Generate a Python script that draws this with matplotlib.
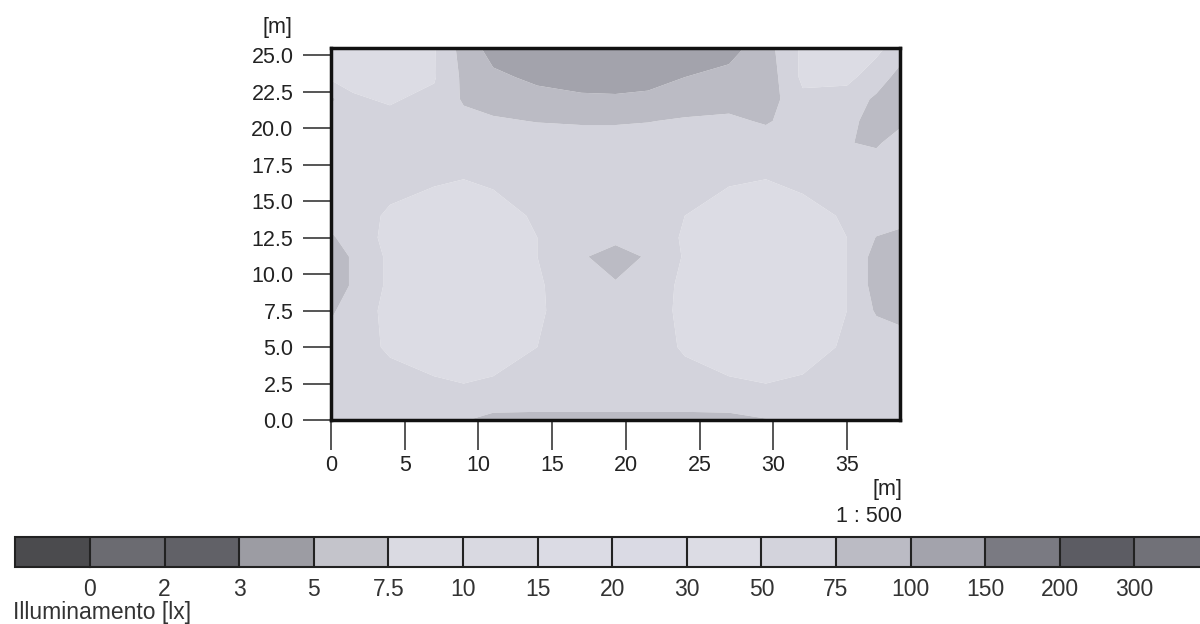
import matplotlib
matplotlib.use("Agg")
import matplotlib.pyplot as plt
import numpy as np

plt.rcParams['font.family'] = ['Liberation Sans', 'DejaVu Sans']

# ---- data: illuminance grid (lx) ----
x_m = [0, 1.5, 4, 7, 9, 11, 14, 17, 19.3, 21.5, 24, 27, 29.5, 32, 35, 37, 38.6]
y_m = [0, 0.8, 2.5, 5, 7.5, 9.2, 11.2, 12.5, 14, 17, 19, 20.5, 22, 23.5, 25.5]

row_00 = [55, 55, 55, 60, 74, 80, 82, 82, 82, 82, 82, 80, 76, 58, 55, 55, 55]
row_01 = [58, 58, 58, 60, 66, 72, 72, 72, 72, 72, 72, 72, 68, 60, 58, 58, 58]
row_02 = [58, 58, 55, 52, 50, 52, 56, 58, 58, 58, 56, 52, 50, 52, 56, 58, 58]
row_03 = [60, 56, 48, 42, 40, 42, 50, 58, 60, 58, 48, 42, 40, 44, 52, 58, 62]
row_04 = [80, 58, 46, 40, 38, 40, 48, 58, 60, 58, 46, 40, 38, 42, 50, 78, 84]
row_05 = [88, 72, 45, 38, 36, 38, 48, 60, 70, 60, 46, 38, 36, 40, 50, 85, 92]
row_06 = [88, 72, 45, 38, 36, 40, 50, 70, 95, 70, 48, 38, 36, 40, 50, 85, 92]
row_07 = [80, 58, 46, 40, 38, 42, 50, 60, 62, 60, 48, 40, 38, 42, 50, 76, 82]
row_08 = [60, 56, 48, 42, 40, 44, 52, 58, 60, 58, 50, 42, 40, 44, 52, 60, 65]
row_09 = [60, 58, 56, 54, 52, 54, 58, 60, 60, 60, 56, 54, 52, 56, 62, 62, 60]
row_10 = [60, 60, 58, 58, 60, 60, 62, 62, 62, 62, 60, 60, 62, 60, 74, 78, 65]
row_11 = [62, 58, 55, 60, 68, 72, 76, 78, 78, 76, 72, 70, 78, 62, 70, 82, 80]
row_12 = [80, 52, 48, 55, 78, 85, 92, 96, 97, 95, 90, 85, 88, 55, 58, 80, 88]
row_13 = [45, 45, 45, 48, 80, 95, 105, 110, 110, 108, 100, 92, 90, 45, 45, 60, 85]
row_14 = [45, 45, 45, 48, 85, 110, 125, 125, 125, 125, 125, 110, 85, 45, 45, 45, 60]

# legend classes
levels = [0, 2, 3, 5, 7.5, 10, 15, 20, 30, 50, 75, 100, 150, 200, 300]
level_labels = ["0", "2", "3", "5", "7.5", "10", "15", "20", "30", "50",
                "75", "100", "150", "200", "300"]
class_colors = ["#4b4b4e", "#6b6b71", "#616167", "#9c9ca3", "#c4c4cb",
                "#dadae2", "#d9d9e1", "#dbdbe4", "#dadae4", "#dcdce4",
                "#d3d3dc", "#bbbbc4", "#a3a3ac", "#7a7a82", "#5c5c63",
                "#717178"]

x_ticks = [0, 5, 10, 15, 20, 25, 30, 35]
y_ticks = [0, 2.5, 5, 7.5, 10, 12.5, 15, 17.5, 20, 22.5, 25]
y_tick_labels = ["0.0", "2.5", "5.0", "7.5", "10.0", "12.5", "15.0",
                 "17.5", "20.0", "22.5", "25.0"]

Z = np.array([row_00, row_01, row_02, row_03, row_04, row_05, row_06, row_07,
              row_08, row_09, row_10, row_11, row_12, row_13, row_14])
X, Y = np.meshgrid(x_m, y_m)

W, H = 1200, 624
fig = plt.figure(figsize=(W / 100, H / 100), dpi=100)
fig.patch.set_facecolor("white")

ax = fig.add_axes([331 / W, 1 - 420 / H, (900 - 331) / W, (420 - 48) / H])
cs = ax.contourf(X, Y, Z, levels=levels, colors=class_colors, extend="both",
                 antialiased=True)
ax.set_xlim(0, 38.6)
ax.set_ylim(0, 25.5)
for s in ax.spines.values():
    s.set_linewidth(2.5)
    s.set_color("#111111")
ax.set_xticks(x_ticks)
ax.set_xticklabels([str(v) for v in x_ticks])
ax.set_yticks(y_ticks)
ax.set_yticklabels(y_tick_labels)
ax.tick_params(axis="y", direction="out", length=20, width=1.4, color="#555555",
               pad=7, labelsize=15.5, labelcolor="#222222")
ax.tick_params(axis="x", direction="out", length=21.5, width=1.4, color="#555555",
               pad=3.5, labelsize=15.5, labelcolor="#222222")

fig.text(292 / W, 1 - 28 / H, "[m]", ha="right", va="center", fontsize=15.5,
         color="#222222")
fig.text(902 / W, 1 - 489 / H, "[m]", ha="right", va="center", fontsize=15.5,
         color="#222222")
fig.text(902 / W, 1 - 516 / H, "1 : 500", ha="right", va="center", fontsize=15.5,
         color="#222222")

# legend bar
cax = fig.add_axes([15.4 / W, 1 - 567 / H, (1209 - 15.4) / W, 30 / H])
cb = fig.colorbar(cs, cax=cax, orientation="horizontal", extendrect=True,
                  extendfrac=1 / 14, drawedges=True, ticks=levels)
cb.set_ticklabels(level_labels)
cb.outline.set_linewidth(1.5)
cb.outline.set_edgecolor("#222222")
cb.dividers.set_color("#222222")
cb.dividers.set_linewidth(1.5)
cax.tick_params(length=0, pad=8, labelsize=16.5, labelcolor="#333333")
fig.text(13 / W, 1 - 613 / H, "Illuminamento [lx]", ha="left", va="center",
         fontsize=16.5, color="#333333")

fig.savefig("out.png", dpi=100, facecolor="white")
